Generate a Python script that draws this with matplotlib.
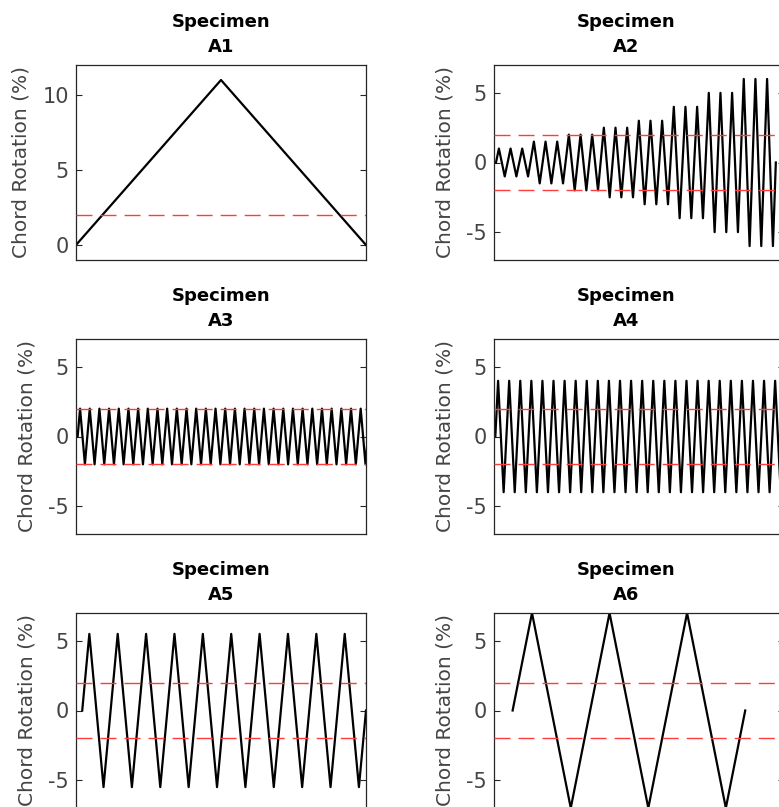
import numpy as np
import matplotlib.pyplot as plt

plt.rcParams['font.family'] = ['DejaVu Sans']
plt.rcParams['axes.unicode_minus'] = False

# ---------------------------------------------------------------
# Loading protocols
# ---------------------------------------------------------------
specimens = ["A1", "A2", "A3", "A4", "A5", "A6"]

# A1: monotonic push to peak and back
a1_x = [0, 1, 2]
a1_y = [0, 11, 0]

# cyclic specimens: peak amplitude (%) per step and number of cycles per step
a2_amps = [1, 1.5, 2, 2.5, 3, 4, 5, 6]
a2_cycles = [3, 3, 3, 3, 3, 3, 3, 3]
a3_amps, a3_cycles = [2], [30]
a4_amps, a4_cycles = [4], [26]
a5_amps, a5_cycles = [5.5], [10]
a6_amps, a6_cycles = [7], [3]

ref_a1 = [2]
ref_cyclic = [2, -2]

xlims = {
    "A1": (0, 2),
    "A2": (-0.17, 24.7),
    "A3": (-0.17, 29.8),
    "A4": (-0.12, 26.05),
    "A5": (-0.22, 10),
    "A6": (-0.24, 3.5),
}
ylims = {"A1": (-1, 12)}
yticks = {"A1": [0, 5, 10]}


def protocol(amps, cycles):
    # zero start, +A / -A each cycle, back to zero
    peaks = np.repeat(amps, cycles)
    x = [0.0]
    y = [0.0]
    for i, a in enumerate(peaks):
        x += [i + 0.25, i + 0.75]
        y += [a, -a]
    x.append(float(len(peaks)))
    y.append(0.0)
    return np.array(x), np.array(y)


series = {
    "A1": (np.array(a1_x), np.array(a1_y)),
    "A2": protocol(a2_amps, a2_cycles),
    "A3": protocol(a3_amps, a3_cycles),
    "A4": protocol(a4_amps, a4_cycles),
    "A5": protocol(a5_amps, a5_cycles),
    "A6": protocol(a6_amps, a6_cycles),
}

# ---------------------------------------------------------------
# Layout (pixels of the 779x807 picture)
# ---------------------------------------------------------------
W, H = 779, 807
fig = plt.figure(figsize=(W / 100, H / 100), dpi=100)

col_x = [76, 494]
row_top = [65, 339, 613]
ax_w, ax_h = 290, 195

AXC = "#262626"
TXT = "#444444"

for k, name in enumerate(specimens):
    r, c = divmod(k, 2)
    ax = fig.add_axes([col_x[c] / W, 1 - (row_top[r] + ax_h) / H, ax_w / W, ax_h / H])
    x, y = series[name]
    ax.plot(x, y, color="black", lw=1.6, zorder=2)
    refs = ref_a1 if name == "A1" else ref_cyclic
    for v in refs:
        ax.axhline(v, color="#ff3b3b", lw=1.0, dashes=(11.5, 5.8), zorder=3)
    ax.set_xlim(*xlims[name])
    ax.set_ylim(*ylims.get(name, (-7, 7)))
    ax.set_yticks(yticks.get(name, [-5, 0, 5]))
    ax.set_xticks([])
    ax.tick_params(axis="y", direction="in", length=4, width=0.8, left=True, right=True,
                   labelsize=15, colors=AXC, labelcolor=TXT, pad=5)
    for s in ax.spines.values():
        s.set_color(AXC)
        s.set_linewidth(0.9)
    ax.set_ylabel("Chord Rotation (%)", fontsize=14.5, color=TXT, labelpad=8.5)
    tx = 0.5 if c == 0 else 0.455
    ax.set_title("Specimen\n" + name, fontsize=13, fontweight="bold", x=tx, pad=9,
                 linespacing=1.55)

plt.savefig("out.png", dpi=100)
